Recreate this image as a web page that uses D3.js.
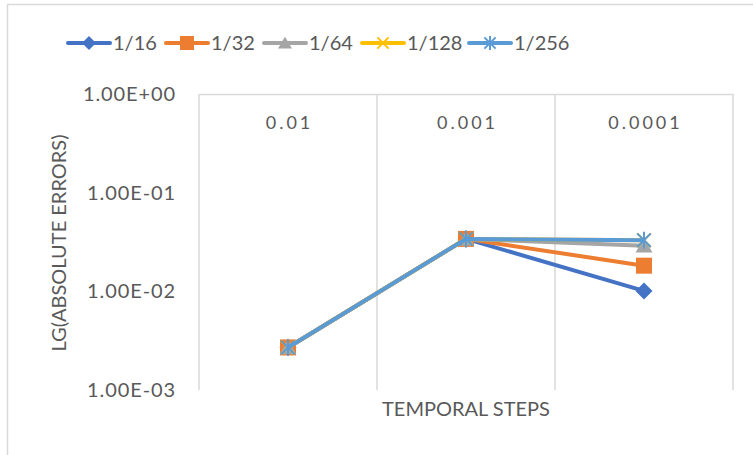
<!DOCTYPE html>
<html>
<head>
<meta charset="utf-8">
<script src="https://cdn.jsdelivr.net/npm/d3@7"></script>
<style>
  html, body { margin: 0; padding: 0; background: #fff; }
  svg { display: block; }
  text { font-family: Lato, "Open Sans", sans-serif; fill: #595959; }
</style>
</head>
<body>
<svg id="chart" width="753" height="455"></svg>
<script>
// Temporal step sizes (categories along the top axis)
const categories = ["0.01", "0.001", "0.0001"];

// Spatial step series and their absolute errors at each temporal step
const seriesNames = ["1/16", "1/32", "1/64", "1/128", "1/256"];
const err_1_16  = [0.0027, 0.034, 0.0101];
const err_1_32  = [0.0027, 0.034, 0.0182];
const err_1_64  = [0.0027, 0.034, 0.0290];
const err_1_128 = [0.0027, 0.034, 0.0330];
const err_1_256 = [0.0027, 0.034, 0.0330];

// Log-axis tick values and their labels
const yTicks = [1, 0.1, 0.01, 0.001];
const yTickLabels = ["1.00E+00", "1.00E-01", "1.00E-02", "1.00E-03"];

const colors  = ["#4472C4", "#ED7D31", "#A5A5A5", "#FFC000", "#5B9BD5"];
const symbols = ["diamond", "square", "triangle", "x", "star"];

const series = seriesNames.map((name, i) => ({
  name,
  values: [err_1_16, err_1_32, err_1_64, err_1_128, err_1_256][i],
  color: colors[i],
  symbol: symbols[i]
}));

const svg = d3.select("#chart");
const plot = { left: 199, right: 733, top: 94, bottom: 390 };

// Outer chart frame
svg.append("rect")
  .attr("x", 7.5).attr("y", 4.5)
  .attr("width", 760).attr("height", 470)
  .attr("fill", "none").attr("stroke", "#D9D9D9").attr("stroke-width", 1.5);

const x = d3.scaleBand().domain(categories).range([plot.left, plot.right]).padding(0);
const y = d3.scaleLog().domain([0.001, 1]).range([plot.bottom, plot.top]);

// Vertical gridlines at category boundaries
const bounds = categories.map(c => x(c)).concat([plot.right]);
svg.append("g").selectAll("line").data(bounds).join("line")
  .attr("x1", d => d).attr("x2", d => d)
  .attr("y1", plot.top).attr("y2", plot.bottom)
  .attr("stroke", "#D9D9D9").attr("stroke-width", 1.5);

// Category axis crossing at the top of the value range
const xAxis = svg.append("g")
  .attr("transform", `translate(0,${plot.top})`)
  .call(d3.axisBottom(x).tickSize(0).tickPadding(22));
xAxis.select(".domain").attr("stroke", "#D9D9D9").attr("stroke-width", 1.5);
xAxis.selectAll("text")
  .style("font-family", "Lato, 'Open Sans', sans-serif")
  .style("font-size", "18px").style("letter-spacing", "3px")
  .attr("dx", "1.5px")
  .attr("fill", "#595959");

// Log value axis
const yAxis = svg.append("g")
  .attr("transform", `translate(${plot.left},0)`)
  .call(d3.axisLeft(y).tickValues(yTicks)
    .tickFormat((d, i) => yTickLabels[i]).tickSize(0).tickPadding(23));
yAxis.select(".domain").remove();
yAxis.selectAll("text")
  .style("font-family", "Lato, 'Open Sans', sans-serif")
  .style("font-size", "20px").style("letter-spacing", "0.9px")
  .attr("fill", "#595959");

// Axis titles
svg.append("text")
  .attr("transform", "translate(66,243) rotate(-90)")
  .attr("text-anchor", "middle").style("font-size", "20px")
  .text("LG(ABSOLUTE ERRORS)");
svg.append("text")
  .attr("x", 466).attr("y", 416)
  .attr("text-anchor", "middle").style("font-size", "20px")
  .text("TEMPORAL STEPS");

// Marker drawing helper
function drawMarker(g, sym, color, size) {
  const s = size;
  if (sym === "diamond") {
    g.append("path").attr("d", `M0,${-s * 0.5}L${s * 0.5},0L0,${s * 0.5}L${-s * 0.5},0Z`).attr("fill", color);
  } else if (sym === "square") {
    g.append("rect").attr("x", -s / 2).attr("y", -s / 2).attr("width", s).attr("height", s).attr("fill", color);
  } else if (sym === "triangle") {
    g.append("path").attr("d", `M0,${-s * 0.45}L${s * 0.5},${s * 0.4}L${-s * 0.5},${s * 0.4}Z`).attr("fill", color);
  } else if (sym === "x") {
    const h = s * 0.4;
    g.append("path").attr("d", `M${-h},${-h}L${h},${h}M${h},${-h}L${-h},${h}`)
      .attr("stroke", color).attr("stroke-width", 2).attr("fill", "none");
  } else if (sym === "star") {
    const h = s * 0.4;
    g.append("path").attr("d", `M${-h},${-h}L${h},${h}M${h},${-h}L${-h},${h}M0,${-h * 1.25}L0,${h * 1.25}`)
      .attr("stroke", color).attr("stroke-width", 2).attr("fill", "none");
  }
}

// Series lines and markers
const line = d3.line().x((d, i) => x(categories[i]) + x.bandwidth() / 2).y(d => y(d));
const markerSizes = [17, 16, 17, 17, 17];
series.forEach((s, k) => {
  const g = svg.append("g");
  g.append("path").datum(s.values)
    .attr("d", line).attr("fill", "none")
    .attr("stroke", s.color).attr("stroke-width", 4).attr("stroke-linejoin", "round");
  s.values.forEach((v, i) => {
    const m = g.append("g").attr("transform", `translate(${x(categories[i]) + x.bandwidth() / 2},${y(v)})`);
    drawMarker(m, s.symbol, s.color, markerSizes[k]);
  });
});

// Legend
const legendX = [68, 166, 264, 362, 469];
const legend = svg.append("g");
series.forEach((s, i) => {
  const g = legend.append("g").attr("transform", `translate(${legendX[i]},43)`);
  g.append("line").attr("x1", 0).attr("x2", 42).attr("y1", 0).attr("y2", 0)
    .attr("stroke", s.color).attr("stroke-width", 4).attr("stroke-linecap", "round");
  const m = g.append("g").attr("transform", "translate(21,0)");
  drawMarker(m, s.symbol, s.color, 14);
  g.append("text").attr("x", 45).attr("y", 0).attr("dy", "0.35em")
    .style("font-size", "20px").text(s.name);
});
</script>
</body>
</html>
